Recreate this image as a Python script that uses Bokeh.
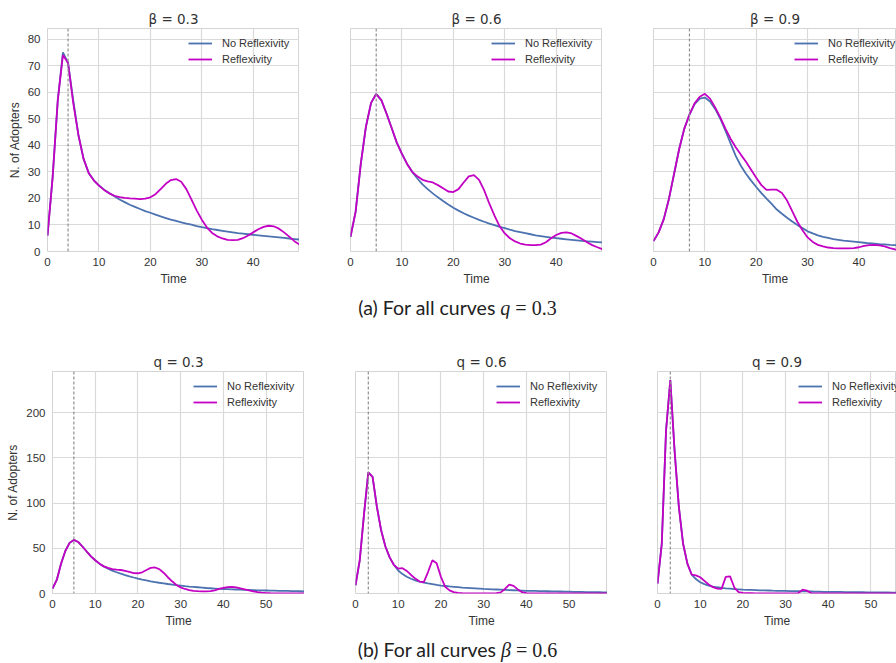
from bokeh.plotting import figure
from bokeh.layouts import column, row
from bokeh.models import Span, Legend, LegendItem, Div, Range1d, FixedTicker
from bokeh.embed import file_html
from bokeh.resources import INLINE

# ---------------- data ----------------
time_top = list(range(50))
time_bottom = list(range(60))

# Row (a): q = 0.3 for all curves
beta03_no = [6, 28, 57, 75, 71, 57, 44, 35, 29.6, 26.8, 24.9, 23.3, 22.0, 20.8, 19.6, 18.6, 17.6, 16.8,
             16.0, 15.2, 14.6, 13.9, 13.2, 12.6, 12.0, 11.5, 11.0, 10.5, 10.1, 9.6, 9.2, 8.8, 8.4, 8.1,
             7.8, 7.5, 7.2, 6.9, 6.7, 6.5, 6.3, 6.1, 5.9, 5.7, 5.5, 5.3, 5.1, 4.9, 4.7, 4.5]
beta03_re = [6, 28, 57, 74, 71, 56, 44, 35, 29.6, 26.8, 24.8, 23.2, 21.9, 21.0, 20.5, 20.2, 20.0, 19.9,
             19.7, 19.9, 20.4, 21.6, 23.5, 25.5, 26.9, 27.3, 26.3, 23.5, 19.5, 15.5, 12.0, 9.0, 7.0, 5.7,
             4.9, 4.4, 4.3, 4.4, 5.0, 6.0, 7.2, 8.4, 9.3, 9.7, 9.5, 8.6, 7.2, 5.6, 3.9, 2.6]

beta06_no = [5.5, 15, 33, 47, 56, 59.3, 57, 52, 46.5, 41, 36.8, 33, 30, 27.5, 25.3, 23.5, 21.9, 20.4,
             19.0, 17.7, 16.5, 15.4, 14.4, 13.5, 12.7, 11.9, 11.2, 10.5, 9.9, 9.3, 8.8, 8.2, 7.7, 7.3,
             6.9, 6.5, 6.1, 5.8, 5.5, 5.2, 5.0, 4.8, 4.6, 4.4, 4.2, 4.0, 3.85, 3.7, 3.55, 3.4,
             3.3, 3.2, 3.1, 3.0, 2.9, 2.8, 2.7, 2.6, 2.5, 2.4]
beta06_re = [5.5, 15, 33, 47, 56, 59.3, 57, 52, 46.5, 41, 36.8, 33, 30, 28.3, 27.0, 26.4, 26.0, 25.0,
             23.8, 22.6, 22.4, 23.5, 26.0, 28.3, 28.8, 27.0, 23.0, 18.0, 13.5, 9.5, 6.8, 5.0, 3.8, 3.0,
             2.6, 2.4, 2.4, 2.6, 3.5, 5.0, 6.2, 7.0, 7.2, 6.8, 5.8, 4.7, 3.5, 2.4, 1.6, 0.9,
             0.5, 0.3, 0.2, 0.2, 0.2, 0.2, 0.1, 0.1, 0.1, 0.1]

beta09_no = [3.9, 7.2, 12.2, 19.8, 29.2, 38.6, 46.3, 51.6, 55.5, 57.6, 58.0, 56.5, 53.7, 50.0, 45.5,
             40.7, 36.0, 32.3, 29.3, 26.7, 24.3, 22.0, 19.9, 17.9, 15.8, 14.2, 12.7, 11.3, 10.0, 8.8,
             7.6, 6.8, 6.1, 5.5, 5.1, 4.7, 4.4, 4.1, 3.9, 3.7, 3.5, 3.3, 3.1, 3.0, 2.8, 2.7, 2.5, 2.4,
             2.3, 2.2]
beta09_re = [3.9, 7.2, 12.2, 19.8, 29.2, 38.6, 46.3, 51.6, 55.8, 58.3, 59.4, 57.6, 54.3, 50.5, 46.3,
             42.5, 39.3, 36.5, 33.8, 30.8, 27.8, 25.0, 23.2, 23.3, 23.3, 22.0, 19.2, 15.2, 11.2, 8.0,
             5.3, 3.6, 2.5, 1.9, 1.5, 1.3, 1.2, 1.2, 1.2, 1.3, 1.6, 2.1, 2.4, 2.5, 2.3, 1.9, 1.3, 0.8,
             0.4, 0.2]

# Row (b): beta = 0.6 for all curves (q = 0.3 is the beta = 0.6 run above)
q06_no = [9, 37, 88, 134, 129, 96, 70, 52, 40, 31.5, 25.5, 21.5, 18.5, 16.3, 14.6, 13.2, 12.1, 11.1,
          10.3, 9.5, 8.8, 8.3, 7.8, 7.4, 7.0, 6.6, 6.3, 6.0, 5.7, 5.4, 5.1, 4.9, 4.6, 4.4, 4.2, 4.0,
          3.8, 3.6, 3.4, 3.2, 3.0, 2.9, 2.8, 2.7, 2.6, 2.5, 2.4, 2.3, 2.2, 2.1, 2.0, 1.9, 1.8, 1.7,
          1.6, 1.5, 1.5, 1.4, 1.3, 1.2]
q06_re = [9, 37, 88, 134, 129, 96, 70, 52, 40, 31.5, 27.5, 28.0, 25.0, 20.5, 16.5, 13.2, 12.5, 24.0,
          36.8, 33.5, 18.4, 7.4, 3.5, 1.5, 0.6, 0.3, 0.2, 0.2, 0.2, 0.2, 0.2, 0.2, 0.2, 0.3, 1.2, 5.0,
          9.9, 8.5, 4.5, 1.5, 0.4, 0.2, 0.2, 0.1, 0.1, 0.1, 0.1, 0.1, 0.1, 0.1, 0.1, 0.1, 0.1, 0.1,
          0.1, 0.1, 0.1, 0.1, 0.1, 0.1]

q09_no = [11, 55, 180, 236, 158, 96, 55, 33, 21, 16, 12.5, 10.3, 8.8, 7.7, 6.9, 6.2, 5.7, 5.3, 4.9,
          4.6, 4.3, 4.1, 3.9, 3.7, 3.5, 3.4, 3.3, 3.1, 3.0, 2.9, 2.8, 2.7, 2.6, 2.5, 2.4, 2.3, 2.2,
          2.1, 2.0, 1.9, 1.9, 1.8, 1.7, 1.7, 1.6, 1.5, 1.5, 1.4, 1.4, 1.3, 1.3, 1.2, 1.2, 1.1, 1.1,
          1.0, 1.0, 1.0, 0.9, 0.9]
q09_re = [11, 55, 180, 236, 158, 96, 55, 33, 21, 20, 18, 14, 10, 7, 5.5, 5.1, 18.4, 19.0, 6.6, 1.5,
          0.8, 0.4, 0.3, 0.2, 0.2, 0.2, 0.2, 0.2, 0.2, 0.2, 0.2, 0.2, 0.2, 0.5, 4.2, 3.2, 0.5, 0.2,
          0.1, 0.1, 0.1, 0.1, 0.1, 0.1, 0.1, 0.1, 0.1, 0.1, 0.1, 0.1, 0.1, 0.1, 0.1, 0.1, 0.1, 0.1,
          0.1, 0.1, 0.1, 0.1]

top_titles = ["β = 0.3", "β = 0.6", "β = 0.9"]
bottom_titles = ["q = 0.3", "q = 0.6", "q = 0.9"]
top_vlines = [4, 5, 7]
bottom_vlines = [5, 3, 3]
top_xticks = [0, 10, 20, 30, 40]
bottom_xticks = [0, 10, 20, 30, 40, 50]
top_yticks = [0, 10, 20, 30, 40, 50, 60, 70, 80]
bottom_yticks = [0, 50, 100, 150, 200]
legend_labels = ["No Reflexivity", "Reflexivity"]

# ---------------- style ----------------
BLUE = "#4c72b0"
MAG = "#c400c4"
GRID = "#dadada"
TXT = "#333333"
SANS = "Liberation Sans"


def panel(t, no, re, vline, title, x_end, y_end, xticks, yticks, show_y,
          width, height, b_left, b_top, b_bottom):
    p = figure(width=width, height=height, x_range=Range1d(0, x_end), y_range=Range1d(0, y_end),
               output_backend="svg", toolbar_location=None, title=title,
               min_border_left=b_left, min_border_right=0, min_border_top=b_top,
               min_border_bottom=b_bottom)
    p.title.align = "center"
    p.title.text_font = "DejaVu Sans"
    p.title.text_font_size = "13.5px"
    p.title.text_font_style = "normal"
    p.title.text_color = "#333333"
    p.title.standoff = 3
    p.outline_line_color = "#d4d4d4"
    p.outline_line_width = 1
    p.background_fill_color = "white"
    p.border_fill_color = "white"

    p.xaxis.ticker = FixedTicker(ticks=xticks)
    p.yaxis.ticker = FixedTicker(ticks=yticks)
    p.xgrid.ticker = FixedTicker(ticks=xticks)
    p.ygrid.ticker = FixedTicker(ticks=yticks)
    for g in (p.xgrid, p.ygrid):
        g.grid_line_color = GRID
        g.grid_line_width = 1.2
    for ax in (p.xaxis, p.yaxis):
        ax.axis_line_color = None
        ax.major_tick_line_color = None
        ax.minor_tick_line_color = None
        ax.major_tick_out = 0
        ax.major_tick_in = 0
        ax.minor_tick_out = 0
        ax.minor_tick_in = 0
        ax.major_label_text_font = SANS
        ax.major_label_text_font_size = "11.5px"
        ax.major_label_text_color = TXT
        ax.axis_label_text_font = SANS
        ax.axis_label_text_font_size = "12px"
        ax.axis_label_text_font_style = "normal"
        ax.axis_label_text_color = TXT
    p.xaxis.axis_label = "Time"
    p.xaxis.major_label_standoff = 6
    p.xaxis.axis_label_standoff = 3
    if show_y:
        p.yaxis.axis_label = "N. of Adopters"
        p.yaxis.major_label_standoff = 7
        p.yaxis.axis_label_standoff = 3
    else:
        p.yaxis.visible = False

    p.add_layout(Span(location=vline, dimension="height", line_color="#8f8f8f",
                      line_dash="3 2", line_width=1.2))
    r1 = p.line(t, no, line_color=BLUE, line_width=1.8)
    r2 = p.line(t, re, line_color=MAG, line_width=1.8)
    leg = Legend(items=[LegendItem(label=legend_labels[0], renderers=[r1]),
                        LegendItem(label=legend_labels[1], renderers=[r2])],
                 location=(141, height - b_top - b_bottom - 39),
                 border_line_color=None, background_fill_alpha=0, padding=5, spacing=0,
                 margin=0, glyph_width=24, glyph_height=16, label_height=16,
                 label_standoff=10, label_text_font=SANS, label_text_font_size="11px",
                 label_text_color=TXT)
    p.add_layout(leg)
    return p


H1, T1, B1 = 298, 28, 47
H2, T2, B2 = 322, 53, 47

p1 = panel(time_top, beta03_no, beta03_re, top_vlines[0], top_titles[0], 49, 84,
           top_xticks, top_yticks, True, 299, H1, 47, T1, B1)
p2 = panel(time_top, beta06_no[:50], beta06_re[:50], top_vlines[1], top_titles[1], 49, 84,
           top_xticks, top_yticks, False, 303, H1, 51, T1, B1)
p3 = panel(time_top, beta09_no, beta09_re, top_vlines[2], top_titles[2], 47.3, 84,
           top_xticks, top_yticks, False, 294, H1, 51, T1, B1)

p4 = panel(time_bottom, beta06_no, beta06_re, bottom_vlines[0], bottom_titles[0], 59, 245.6,
           bottom_xticks, bottom_yticks, True, 304, H2, 52, T2, B2)
p5 = panel(time_bottom, q06_no, q06_re, bottom_vlines[1], bottom_titles[1], 59, 245.6,
           bottom_xticks, bottom_yticks, False, 303, H2, 51, T2, B2)
p6 = panel(time_bottom, q09_no, q09_re, bottom_vlines[2], bottom_titles[2], 56.0, 245.6,
           bottom_xticks, bottom_yticks, False, 289, H2, 50, T2, B2)

MATH = "font-family:'Liberation Serif'; font-size:20px"
cap_style = {"font-family": "Lato", "font-size": "19.5px", "color": "#222222",
             "text-align": "center", "line-height": "20px", "padding-left": "19px",
             "box-sizing": "border-box"}
cap_a = Div(text="(a) For all curves <span style=\"" + MATH + "; font-style:italic\">q</span>"
                 "<span style=\"" + MATH + "\"> = 0.3</span>",
            width=896, height=20, margin=0, styles=cap_style)
cap_b = Div(text="(b) For all curves <span style=\"" + MATH + "; font-style:italic\">β</span>"
                 "<span style=\"" + MATH + "\"> = 0.6</span>",
            width=896, height=20, margin=0, styles=cap_style)

layout = column(row(p1, p2, p3), cap_a, row(p4, p5, p6), cap_b)
open("out.html", "w").write(file_html(layout, INLINE))
